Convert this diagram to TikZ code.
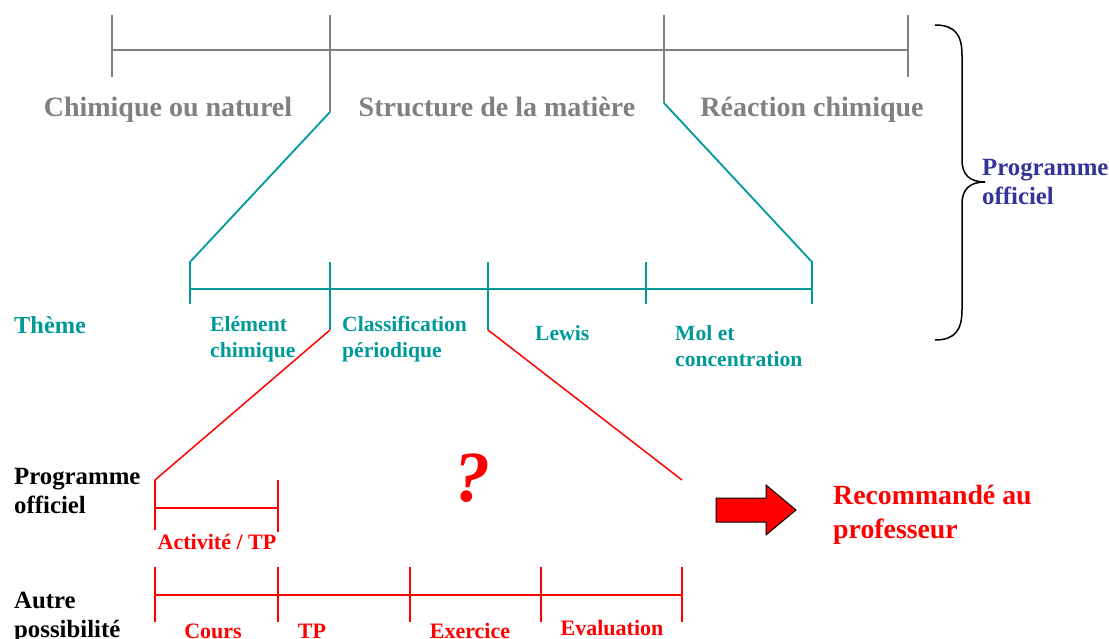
\documentclass[tikz,border=0pt]{standalone}
\usepackage{fontspec}
\setmainfont{Liberation Serif}
\definecolor{cgrey}{HTML}{808080}
\definecolor{cteal}{HTML}{009999}
\definecolor{cblue}{HTML}{333399}
\definecolor{cred}{HTML}{FF0000}
\begin{document}
\begin{tikzpicture}[x=1pt,y=-1pt,
  greyline/.style={draw=cgrey,line width=2pt},
  tealline/.style={draw=cteal,line width=1.8pt},
  redline/.style={draw=cred,line width=1.5pt},
  big/.style={font=\fontsize{28}{33}\selectfont\bfseries,inner sep=0pt},
  mid/.style={font=\fontsize{21.6}{26}\selectfont\bfseries,inner sep=0pt,align=left},
  small/.style={font=\fontsize{22}{26}\selectfont\bfseries,inner sep=0pt,text=cred},
  side/.style={font=\fontsize{24.8}{29}\selectfont\bfseries,inner sep=0pt,align=left},
]
\useasboundingbox (0,0) rectangle (1109,639);
% ---------- top grey timeline
\coordinate (g0) at (112,50);
\coordinate (g3) at (908,50);
\draw[greyline] (g0) -- (g3);
\draw[greyline] (112,15) -- (112,77);
\draw[greyline] (908,15) -- (908,77);
\coordinate (gA) at (330,112);
\coordinate (gB) at (664,103);
\draw[greyline] (330,15) -- (gA);
\draw[greyline] (664,15) -- (gB);
\node[big,text=cgrey,anchor=base] (t1) at (168,117) {Chimique ou naturel};
\node[big,text=cgrey,anchor=base] (t2) at (497,117) {Structure de la matière};
\node[big,text=cgrey,anchor=base] (t3) at (812,117) {Réaction chimique};
% ---------- brace
\draw[line width=1.5pt,black] (935,25) .. controls (955,25) and (962,35) .. (962,55)
  -- (962,160) .. controls (962,175) and (970,182) .. (985,182)
  .. controls (970,182) and (962,189) .. (962,204)
  -- (962,310) .. controls (962,330) and (955,340) .. (935,340);
\node[side,text=cblue,anchor=base west] (po1) at (982,205) {Programme\\officiel};
% ---------- teal timeline
\coordinate (tA) at (190,262);
\coordinate (tB) at (812,262);
\draw[tealline] (gA) -- (tA);
\draw[tealline] (gB) -- (tB);
\draw[tealline] (190,289) -- (812,289);
\draw[tealline] (tA) -- (190,304);
\draw[tealline] (tB) -- (812,304);
\draw[tealline] (646,262) -- (646,304);
\coordinate (rA) at (330,330);
\coordinate (rB) at (488,330);
\draw[tealline] (330,262) -- (rA);
\draw[tealline] (488,262) -- (rB);
\node[mid,text=cteal,anchor=base west,font=\fontsize{24.4}{28}\selectfont\bfseries] (th) at (14,334) {Thème};
\node[mid,text=cteal,anchor=base west] (e1) at (210,357) {Elément\\chimique};
\node[mid,text=cteal,anchor=base west] (e2) at (342,357) {Classification\\périodique};
\node[mid,text=cteal,anchor=base west] (e3) at (535,340) {Lewis};
\node[mid,text=cteal,anchor=base west] (e4) at (675,366) {Mol et\\concentration};
% ---------- red part
\coordinate (rC) at (155,480);
\coordinate (rD) at (682,480);
\draw[redline] (rA) -- (rC);
\draw[redline] (rB) -- (rD);
\draw[redline] (rC) -- (155,530);
\draw[redline] (155,508) -- (278,508);
\draw[redline] (278,480) -- (278,532);
\node[small,anchor=base] (act) at (217,549) {Activité / TP};
\draw[redline] (155,595) -- (682,595);
\foreach \x in {155,278,410,541,682} \draw[redline] (\x,567) -- (\x,622);
\node[small,anchor=base] (c1) at (213,638) {Cours};
\node[small,anchor=base] (c2) at (312,638) {TP};
\node[small,anchor=base] (c3) at (470,638) {Exercice};
\node[small,anchor=base] (c4) at (612,635) {Evaluation};
\node[side,anchor=base west] (l1) at (14,513) {Programme\\officiel};
\node[side,anchor=base west] (l2) at (14,637) {Autre\\possibilité};
\node[inner sep=0pt,text=cred,font=\fontsize{72}{78}\selectfont\bfseries\itshape] (q) at (472,478) {?};
% arrow
\draw[black,line width=1pt,fill=cred] (716,498) -- (766,498) -- (766,485) -- (796,510) -- (766,535) -- (766,522) -- (716,522) -- cycle;
\node[side,text=cred,anchor=base west,font=\fontsize{27.8}{34}\selectfont\bfseries] (rec) at (833,538) {Recommandé au\\professeur};
\end{tikzpicture}
\end{document}
